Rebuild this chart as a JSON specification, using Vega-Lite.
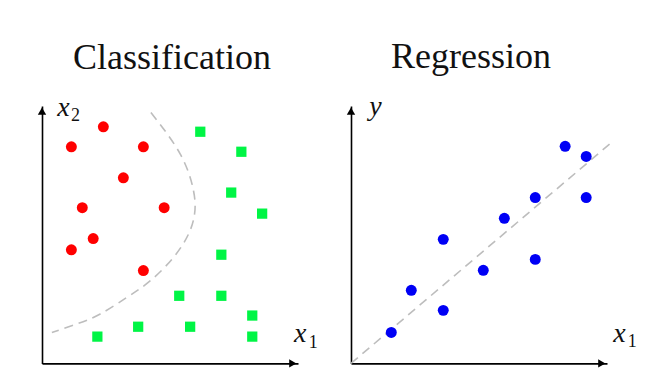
{
  "$schema": "https://vega.github.io/schema/vega-lite/v6.json",
  "background": "white",
  "padding": {"left": 37, "top": 39, "right": 5, "bottom": 5},
  "spacing": 53,
  "bounds": "flush",
  "config": {
    "view": {"stroke": null},
    "axis": {"grid": false, "ticks": false, "labels": false, "title": null, "domainColor": "black", "domainWidth": 1.6},
    "title": {"font": "Liberation Serif", "fontSize": 36, "fontWeight": "normal", "color": "#111111", "baseline": "alphabetic", "offset": 17}
  },
  "datasets": {
    "cls": [
      {"x": 2.36, "y": 9.10, "cls": "A"}, {"x": 1.13, "y": 8.33, "cls": "A"}, {"x": 3.90, "y": 8.33, "cls": "A"},
      {"x": 3.13, "y": 7.14, "cls": "A"}, {"x": 1.55, "y": 5.99, "cls": "A"}, {"x": 4.70, "y": 5.99, "cls": "A"},
      {"x": 1.97, "y": 4.80, "cls": "A"}, {"x": 1.13, "y": 4.37, "cls": "A"}, {"x": 3.90, "y": 3.57, "cls": "A"},
      {"x": 6.09, "y": 8.91, "cls": "B"}, {"x": 7.67, "y": 8.14, "cls": "B"}, {"x": 7.28, "y": 6.57, "cls": "B"},
      {"x": 8.47, "y": 5.76, "cls": "B"}, {"x": 6.90, "y": 4.18, "cls": "B"}, {"x": 5.28, "y": 2.60, "cls": "B"},
      {"x": 6.90, "y": 2.60, "cls": "B"}, {"x": 8.09, "y": 1.84, "cls": "B"}, {"x": 3.70, "y": 1.41, "cls": "B"},
      {"x": 5.70, "y": 1.41, "cls": "B"}, {"x": 2.13, "y": 1.03, "cls": "B"}, {"x": 8.09, "y": 1.03, "cls": "B"}
    ],
    "boundary": [
      {"o": 1, "x": 4.19, "y": 9.65}, {"o": 2, "x": 5.32, "y": 8.05}, {"o": 3, "x": 5.83, "y": 6.64},
      {"o": 4, "x": 5.87, "y": 5.75}, {"o": 5, "x": 5.64, "y": 4.98}, {"o": 6, "x": 5.06, "y": 4.08},
      {"o": 7, "x": 4.17, "y": 3.18}, {"o": 8, "x": 3.27, "y": 2.54}, {"o": 9, "x": 2.24, "y": 1.90},
      {"o": 10, "x": 1.35, "y": 1.52}, {"o": 11, "x": 0.38, "y": 1.19}
    ],
    "reg": [
      {"x": 1.55, "y": 1.19}, {"x": 2.32, "y": 2.81}, {"x": 3.55, "y": 2.04}, {"x": 3.55, "y": 4.77},
      {"x": 5.09, "y": 3.58}, {"x": 5.90, "y": 5.58}, {"x": 7.09, "y": 4.00}, {"x": 7.09, "y": 6.38},
      {"x": 8.24, "y": 8.35}, {"x": 9.05, "y": 7.96}, {"x": 9.05, "y": 6.38}
    ],
    "fit": [{"x": 0, "y": 0}, {"x": 10.04, "y": 8.51}],
    "arrows": [{"x": 0, "y": 9.7, "shape": "triangle-up"}, {"x": 9.65, "y": 0, "shape": "triangle-right"}],
    "labL": [
      {"x": 0.59, "y": 9.53, "t": "x", "kind": "var"}, {"x": 1.12, "y": 9.33, "t": "2", "kind": "sub"},
      {"x": 9.70, "y": 0.83, "t": "x", "kind": "var"}, {"x": 10.26, "y": 0.60, "t": "1", "kind": "sub"}
    ],
    "labR": [
      {"x": 0.70, "y": 9.54, "t": "y", "kind": "var"},
      {"x": 10.09, "y": 0.81, "t": "x", "kind": "var"}, {"x": 10.65, "y": 0.62, "t": "1", "kind": "sub"}
    ]
  },
  "hconcat": [
    {
      "title": {"text": "Classification", "dx": 2},
      "width": 256, "height": 257.4,
      "encoding": {
        "x": {"field": "x", "type": "quantitative", "scale": {"domain": [0, 9.85], "nice": false, "zero": false}, "axis": {"orient": "bottom"}},
        "y": {"field": "y", "type": "quantitative", "scale": {"domain": [0, 9.9], "nice": false, "zero": false}, "axis": {"orient": "left"}}
      },
      "layer": [
        {"data": {"name": "boundary"}, "mark": {"type": "line", "interpolate": "natural", "stroke": "#bdbdbd", "strokeWidth": 1.6, "strokeDash": [9, 6]}, "encoding": {"order": {"field": "o", "type": "quantitative"}}},
        {"data": {"name": "cls"}, "transform": [{"filter": "datum.cls === 'A'"}], "mark": {"type": "point", "shape": "circle", "filled": true, "color": "#ff0000", "size": 120, "opacity": 1}},
        {"data": {"name": "cls"}, "transform": [{"filter": "datum.cls === 'B'"}], "mark": {"type": "point", "shape": "square", "filled": true, "color": "#00f545", "size": 105, "opacity": 1}},
        {"data": {"name": "arrows"}, "mark": {"type": "point", "filled": true, "color": "black", "size": 70, "opacity": 1}, "encoding": {"shape": {"field": "shape", "type": "nominal", "scale": null}}},
        {"data": {"name": "labL"}, "transform": [{"filter": "datum.kind === 'var'"}], "mark": {"type": "text", "align": "left", "baseline": "alphabetic", "font": "Liberation Serif", "fontStyle": "italic", "fontSize": 28, "color": "#111111"}, "encoding": {"text": {"field": "t"}}},
        {"data": {"name": "labL"}, "transform": [{"filter": "datum.kind === 'sub'"}], "mark": {"type": "text", "align": "left", "baseline": "alphabetic", "font": "Liberation Serif", "fontSize": 18, "color": "#111111"}, "encoding": {"text": {"field": "t"}}}
      ]
    },
    {
      "title": {"text": "Regression", "dx": -8},
      "width": 256, "height": 257.4,
      "encoding": {
        "x": {"field": "x", "type": "quantitative", "scale": {"domain": [0, 9.85], "nice": false, "zero": false}, "axis": {"orient": "bottom"}},
        "y": {"field": "y", "type": "quantitative", "scale": {"domain": [0, 9.9], "nice": false, "zero": false}, "axis": {"orient": "left"}}
      },
      "layer": [
        {"data": {"name": "fit"}, "mark": {"type": "line", "stroke": "#bdbdbd", "strokeWidth": 1.6, "strokeDash": [9, 6], "clip": false}, "encoding": {}},
        {"data": {"name": "reg"}, "mark": {"type": "point", "shape": "circle", "filled": true, "color": "#0000f5", "size": 120, "opacity": 1}},
        {"data": {"name": "arrows"}, "mark": {"type": "point", "filled": true, "color": "black", "size": 70, "opacity": 1}, "encoding": {"shape": {"field": "shape", "type": "nominal", "scale": null}}},
        {"data": {"name": "labR"}, "transform": [{"filter": "datum.kind === 'var'"}], "mark": {"type": "text", "align": "left", "baseline": "alphabetic", "font": "Liberation Serif", "fontStyle": "italic", "fontSize": 28, "color": "#111111"}, "encoding": {"text": {"field": "t"}}},
        {"data": {"name": "labR"}, "transform": [{"filter": "datum.kind === 'sub'"}], "mark": {"type": "text", "align": "left", "baseline": "alphabetic", "font": "Liberation Serif", "fontSize": 18, "color": "#111111"}, "encoding": {"text": {"field": "t"}}}
      ]
    }
  ]
}
